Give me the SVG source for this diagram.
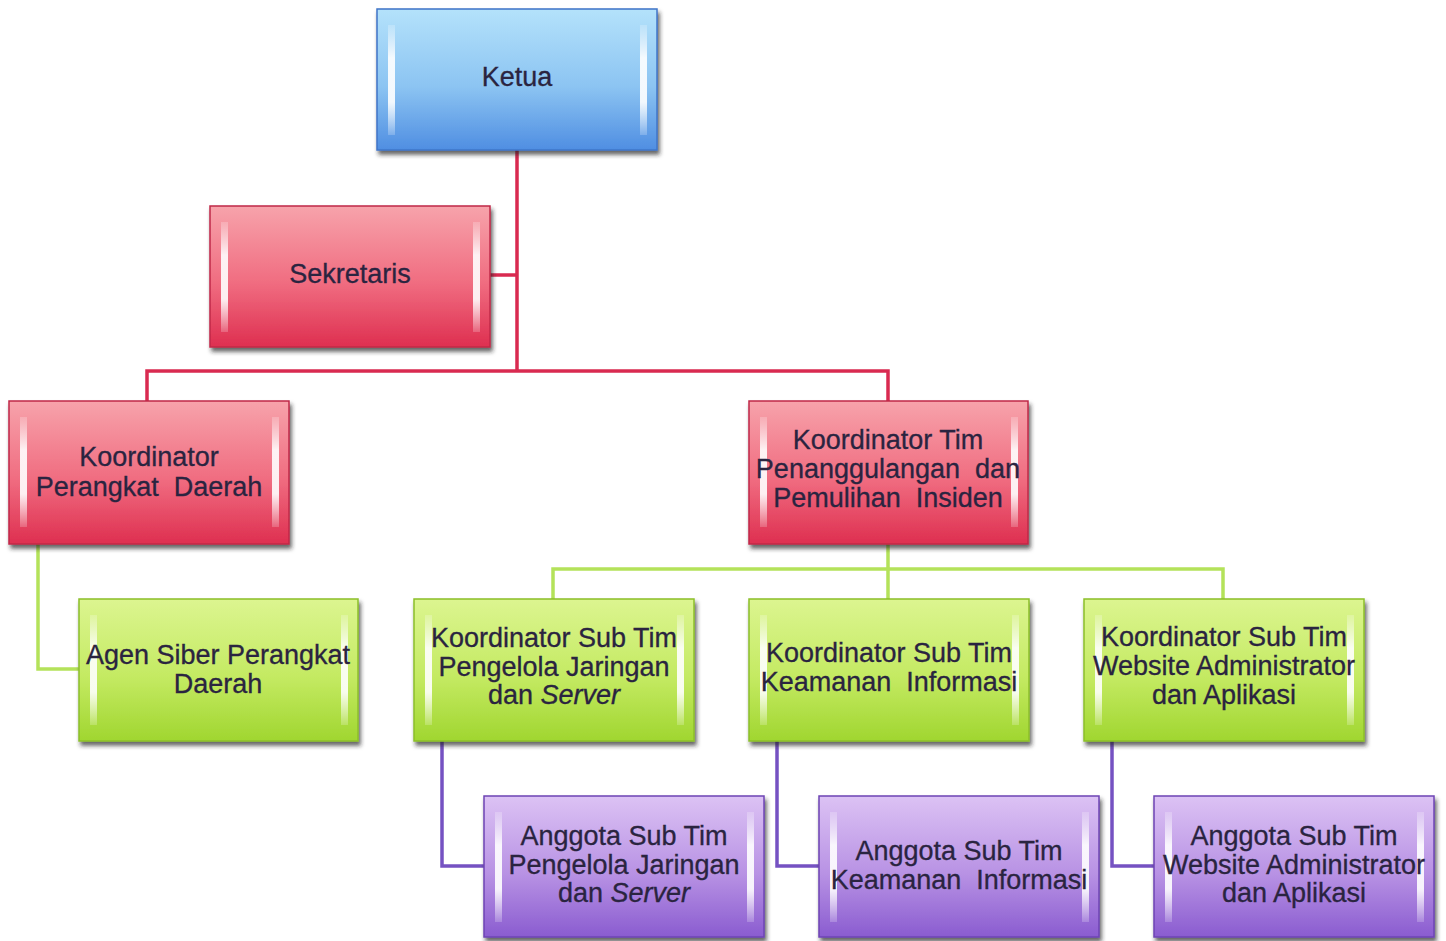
<svg xmlns="http://www.w3.org/2000/svg" width="1446" height="941" viewBox="0 0 1446 941">
<defs>
<linearGradient id="gBlue" x1="0" y1="0" x2="0" y2="1"><stop offset="0" stop-color="#b4e2fb"/><stop offset="0.55" stop-color="#8cc4f2"/><stop offset="1" stop-color="#4f8ee2"/></linearGradient>
<linearGradient id="gRed" x1="0" y1="0" x2="0" y2="1"><stop offset="0" stop-color="#f7a3ab"/><stop offset="0.55" stop-color="#f06c80"/><stop offset="1" stop-color="#de2f50"/></linearGradient>
<linearGradient id="gGreen" x1="0" y1="0" x2="0" y2="1"><stop offset="0" stop-color="#dcf590"/><stop offset="0.55" stop-color="#c4ea62"/><stop offset="1" stop-color="#a0d630"/></linearGradient>
<linearGradient id="gPurple" x1="0" y1="0" x2="0" y2="1"><stop offset="0" stop-color="#dcc2f4"/><stop offset="0.55" stop-color="#b892e4"/><stop offset="1" stop-color="#8a5cd0"/></linearGradient>
<linearGradient id="gHi" x1="0" y1="0" x2="0" y2="1"><stop offset="0" stop-color="#fff" stop-opacity="0.2"/><stop offset="0.3" stop-color="#fff" stop-opacity="0.9"/><stop offset="0.7" stop-color="#fff" stop-opacity="0.9"/><stop offset="1" stop-color="#fff" stop-opacity="0.2"/></linearGradient>
<filter id="sh" x="-5%" y="-5%" width="115%" height="120%"><feDropShadow dx="2" dy="4" stdDeviation="2" flood-color="#222" flood-opacity="0.7"/></filter>
</defs>
<style>
.box{stroke-width:1.5;filter:url(#sh)}
.blue{fill:url(#gBlue);stroke:#3f74c8}
.red{fill:url(#gRed);stroke:#c02848}
.green{fill:url(#gGreen);stroke:#8cbf2a}
.purple{fill:url(#gPurple);stroke:#6e44b4}
.hi{fill:url(#gHi)}
text{font-family:"Liberation Sans",Arial,sans-serif;font-size:27px;text-anchor:middle;fill:#2a2440;stroke:#2a2440;stroke-width:0.3;white-space:pre}
.c{fill:none;stroke-width:3.5}
.cr{stroke:#d92a50}
.cg{stroke:#b4e25a}
.cp{stroke:#7552c2}
</style>
<rect width="1446" height="941" fill="#fff"/>
<g id="connectors">
<path class="c cr" d="M517 150 V371 M490 275 H517 M147 401 V371 H888 V401"/>
<path class="c cg" d="M888 544 V569 M553 599 V569 H1223 V599 M888 569 V599 M38 544 V669 H79"/>
<path class="c cp" d="M442 741 V866 H484 M777 741 V866 H819 M1112 741 V866 H1154"/>
</g>
<g id="ketua"><rect class="box blue" x="377" y="9" width="280" height="141"/><rect class="hi" x="388" y="25" width="7" height="110"/><rect class="hi" x="640" y="25" width="7" height="110"/><text x="517" y="86">Ketua</text></g>
<g id="sekretaris"><rect class="box red" x="210" y="206" width="280" height="141"/><rect class="hi" x="221" y="222" width="7" height="110"/><rect class="hi" x="473" y="222" width="7" height="110"/><text x="350" y="283">Sekretaris</text></g>
<g id="koord-pd"><rect class="box red" x="9" y="401" width="280" height="143"/><rect class="hi" x="20" y="417" width="7" height="110"/><rect class="hi" x="272" y="417" width="7" height="110"/><text x="149" y="466">Koordinator</text><text x="149" y="496" xml:space="preserve">Perangkat  Daerah</text></g>
<g id="koord-tpp"><rect class="box red" x="749" y="401" width="279" height="143"/><rect class="hi" x="760" y="417" width="7" height="110"/><rect class="hi" x="1011" y="417" width="7" height="110"/><text x="888" y="449">Koordinator Tim</text><text x="888" y="478" xml:space="preserve">Penanggulangan  dan</text><text x="888" y="507" xml:space="preserve">Pemulihan  Insiden</text></g>
<g id="agen"><rect class="box green" x="79" y="599" width="279" height="142"/><rect class="hi" x="90" y="615" width="7" height="110"/><rect class="hi" x="341" y="615" width="7" height="110"/><text x="218" y="664">Agen Siber Perangkat</text><text x="218" y="693">Daerah</text></g>
<g id="kst-jaringan"><rect class="box green" x="414" y="599" width="280" height="142"/><rect class="hi" x="425" y="615" width="7" height="110"/><rect class="hi" x="677" y="615" width="7" height="110"/><text x="554" y="647">Koordinator Sub Tim</text><text x="554" y="676">Pengelola Jaringan</text><text x="554" y="704">dan <tspan font-style="italic">Server</tspan></text></g>
<g id="kst-keamanan"><rect class="box green" x="749" y="599" width="280" height="142"/><rect class="hi" x="760" y="615" width="7" height="110"/><rect class="hi" x="1012" y="615" width="7" height="110"/><text x="889" y="662">Koordinator Sub Tim</text><text x="889" y="691" xml:space="preserve">Keamanan  Informasi</text></g>
<g id="kst-website"><rect class="box green" x="1084" y="599" width="280" height="142"/><rect class="hi" x="1095" y="615" width="7" height="110"/><rect class="hi" x="1347" y="615" width="7" height="110"/><text x="1224" y="646">Koordinator Sub Tim</text><text x="1224" y="675">Website Administrator</text><text x="1224" y="704">dan Aplikasi</text></g>
<g id="ang-jaringan"><rect class="box purple" x="484" y="796" width="280" height="141"/><rect class="hi" x="495" y="812" width="7" height="110"/><rect class="hi" x="747" y="812" width="7" height="110"/><text x="624" y="845">Anggota Sub Tim</text><text x="624" y="874">Pengelola Jaringan</text><text x="624" y="902">dan <tspan font-style="italic">Server</tspan></text></g>
<g id="ang-keamanan"><rect class="box purple" x="819" y="796" width="280" height="141"/><rect class="hi" x="830" y="812" width="7" height="110"/><rect class="hi" x="1082" y="812" width="7" height="110"/><text x="959" y="860">Anggota Sub Tim</text><text x="959" y="889" xml:space="preserve">Keamanan  Informasi</text></g>
<g id="ang-website"><rect class="box purple" x="1154" y="796" width="280" height="141"/><rect class="hi" x="1165" y="812" width="7" height="110"/><rect class="hi" x="1417" y="812" width="7" height="110"/><text x="1294" y="845">Anggota Sub Tim</text><text x="1294" y="874">Website Administrator</text><text x="1294" y="902">dan Aplikasi</text></g>
</svg>
